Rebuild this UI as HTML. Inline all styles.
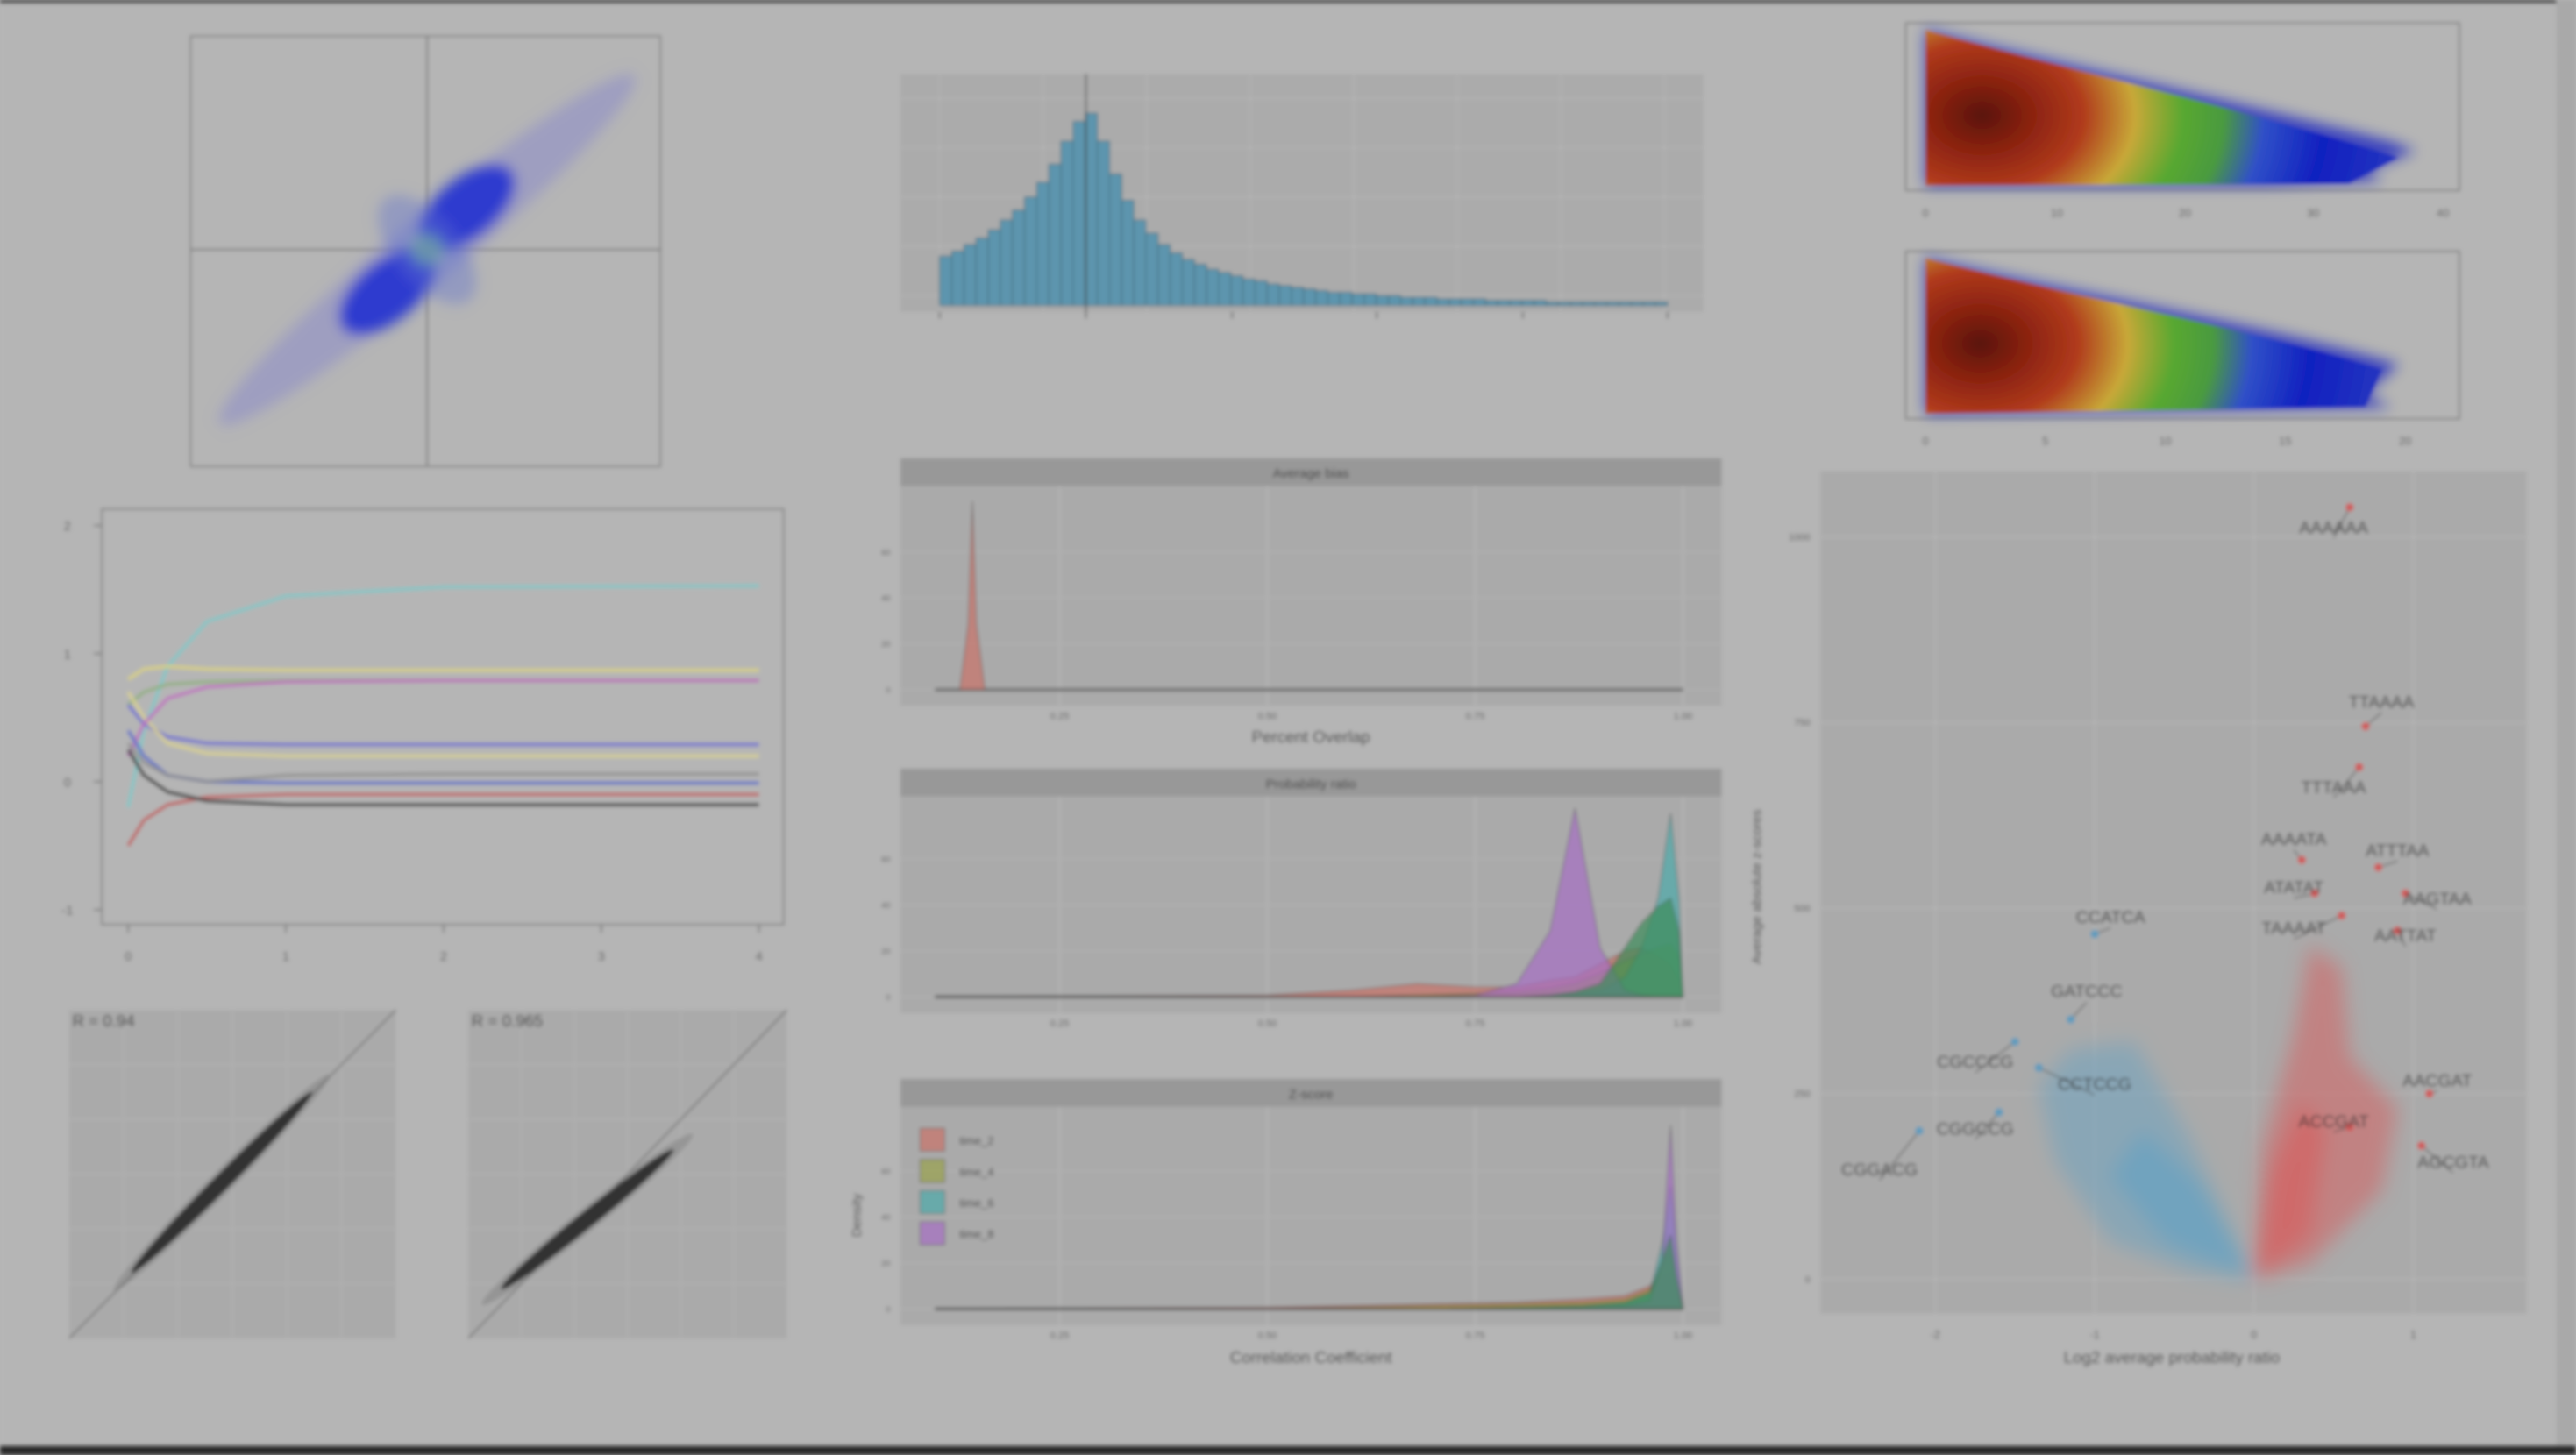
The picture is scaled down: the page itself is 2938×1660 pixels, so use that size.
<!DOCTYPE html>
<html><head><meta charset="utf-8"><style>
html,body{margin:0;padding:0;background:#b5b5b5;}
svg{display:block;font-family:"Liberation Sans",sans-serif;}
</style></head><body>
<svg id="fig" width="2938" height="1660" viewBox="0 0 1568 886" preserveAspectRatio="none" xmlns="http://www.w3.org/2000/svg">
<defs>
<filter id="blur" x="-5%" y="-5%" width="110%" height="110%"><feGaussianBlur stdDeviation="1.2"/></filter>
<filter id="blur4"><feGaussianBlur stdDeviation="4"/></filter>
<filter id="blur6" x="-20%" y="-20%" width="140%" height="140%"><feGaussianBlur stdDeviation="6"/></filter>
<radialGradient id="heat" cx="0.12" cy="0.55" r="0.85" gradientTransform="translate(0.12 0.55) scale(1 2.2) translate(-0.12 -0.55)">
<stop offset="0" stop-color="#5a1408"/><stop offset="0.12" stop-color="#8a2210"/><stop offset="0.25" stop-color="#b03a1c"/>
<stop offset="0.38" stop-color="#c8a838"/><stop offset="0.5" stop-color="#58a830"/><stop offset="0.6" stop-color="#4a9a40"/>
<stop offset="0.7" stop-color="#3050c8"/><stop offset="0.85" stop-color="#1020c0"/><stop offset="1" stop-color="#2030c0"/>
</radialGradient>
</defs>
<g id="root" filter="url(#blur)">
<rect x="0" y="0" width="1568" height="886" fill="#b5b5b5"/>
<rect x="0" y="0" width="1568" height="2" fill="#333"/>
<rect x="1556" y="0" width="12" height="886" fill="#a9a9a9"/>
<rect x="0" y="880" width="1568" height="6" fill="#2a2a2a"/>

<g>
<rect x="116" y="22" width="286" height="262" fill="none" stroke="#8a8a8a" stroke-width="1.2"/>
<line x1="260" y1="22" x2="260" y2="284" stroke="#777" stroke-width="1"/>
<line x1="116" y1="152" x2="402" y2="152" stroke="#777" stroke-width="1"/>
<g transform="translate(260 152) rotate(-40)" filter="url(#blur4)">
<ellipse cx="0" cy="0" rx="165" ry="20" fill="#9090c8" opacity="0.6"/>
<ellipse cx="-35" cy="4" rx="35" ry="18" fill="#2030d0" opacity="0.9"/>
<ellipse cx="35" cy="-4" rx="35" ry="18" fill="#2030d0" opacity="0.9"/>
<ellipse cx="0" cy="0" rx="20" ry="40" fill="#6070d0" opacity="0.4"/>
<ellipse cx="0" cy="0" rx="10" ry="10" fill="#70a8a0" opacity="0.7"/>
</g>
</g>

<g id="lineChart"></g>
<g id="scatter1"></g>
<g id="scatter2"></g>
<g id="hist"></g>
<g id="dens"></g>

<g>
<rect x="1160" y="14" width="337" height="102" fill="none" stroke="#888" stroke-width="1.2"/>
<path d="M1172 18 C1250 38 1380 66 1455 86 L1470 92 L1440 104 L1450 110 L1380 113 L1172 113 Z" fill="#1a28c0" filter="url(#blur4)" opacity="0.8"/>
<path d="M1172 18 C1250 40 1380 70 1460 96 L1430 112 L1172 113 Z" fill="url(#heat)"/>
<text x="1172" y="132" font-size="7" fill="#555" text-anchor="middle">0</text><text x="1252" y="132" font-size="7" fill="#555" text-anchor="middle">10</text><text x="1330" y="132" font-size="7" fill="#555" text-anchor="middle">20</text><text x="1408" y="132" font-size="7" fill="#555" text-anchor="middle">30</text><text x="1487" y="132" font-size="7" fill="#555" text-anchor="middle">40</text>
</g>
<g>
<rect x="1160" y="153" width="337" height="102" fill="none" stroke="#888" stroke-width="1.2"/>
<path d="M1172 157 C1260 178 1390 200 1460 222 L1440 240 L1455 248 L1172 252 Z" fill="#1a28c0" filter="url(#blur4)" opacity="0.8"/>
<path d="M1172 157 C1260 180 1390 205 1450 225 L1440 248 L1172 252 Z" fill="url(#heat)"/>
<text x="1172" y="271" font-size="7" fill="#555" text-anchor="middle">0</text><text x="1245" y="271" font-size="7" fill="#555" text-anchor="middle">5</text><text x="1318" y="271" font-size="7" fill="#555" text-anchor="middle">10</text><text x="1391" y="271" font-size="7" fill="#555" text-anchor="middle">15</text><text x="1464" y="271" font-size="7" fill="#555" text-anchor="middle">20</text>
</g>

<g id="volcano"></g>
</g>
</svg>
<script>
const lineX = [0, 0.1, 0.25, 0.5, 1, 2, 4];
const lineColors = ["#80c8c8","#d8d080","#90b080","#7070d0","#d8d090","#c070c0","#6070c8","#c06060","#404040","#909090"];
const lineSeries = [
 [-0.2, 0.4, 0.9, 1.25, 1.45, 1.52, 1.53],
 [0.8, 0.88, 0.9, 0.88, 0.87, 0.87, 0.87],
 [0.6, 0.7, 0.76, 0.78, 0.79, 0.79, 0.79],
 [0.6, 0.45, 0.35, 0.3, 0.29, 0.29, 0.29],
 [0.7, 0.5, 0.3, 0.22, 0.2, 0.2, 0.2],
 [0.2, 0.45, 0.65, 0.74, 0.78, 0.79, 0.79],
 [0.4, 0.2, 0.05, 0.0, -0.01, -0.01, -0.01],
 [-0.5, -0.3, -0.18, -0.12, -0.1, -0.1, -0.1],
 [0.25, 0.05, -0.08, -0.15, -0.18, -0.18, -0.18],
 [0.3, 0.15, 0.05, 0.0, 0.05, 0.06, 0.06]
];
const lineYTicks = [2, 1, 0, -1];
const lineXTicks = [0, 1, 2, 3, 4];
const corrLabels = ["R = 0.94", "R = 0.965"];
const histCounts = [30,33,37,41,46,52,58,66,75,86,100,112,117,100,80,64,52,44,37,32,28,25,22,20,18,16,15,13,12,11,10,9,8,8,7,7,6,6,5,5,5,4,4,4,4,3,3,3,3,3,2,2,2,2,2,2,2,2,2,2];
const facetTitles = ["Average bias", "Probability ratio", "Z-score"];
const densXTicks = [0.25, 0.5, 0.75, 1.0];
const densGroups = ["time_2","time_4","time_6","time_8"];
const densX1 = [0.10,0.13,0.14,0.145,0.15,0.16,0.20,1.0];
const densRed1 = [0,0,40,115,40,0,0,0];
const densX2 = [0.10,0.50,0.60,0.68,0.75,0.80,0.84,0.87,0.90,0.93,0.95,0.97,0.985,0.995,1.0];
const densRed2 = [0,1,4,8,6,6,10,12,20,28,30,25,20,10,0];
const densOlive2 = [0,0,0,1,2,3,5,8,14,22,26,30,32,25,0];
const densTeal2 = [0,0,0,0,0,0,1,2,4,12,30,60,112,60,0];
const densGreen2 = [0,0,0,0,0,0,1,3,8,30,45,55,60,40,0];
const densPurple2 = [0,0,0,0,1,8,40,115,30,4,1,0,0,0,0];
const densX3 = [0.10,0.50,0.60,0.70,0.80,0.88,0.93,0.96,0.975,0.985,0.992,1.0];
const densRed3 = [0,1,2,3,4,6,8,14,20,22,10,0];
const densOlive3 = [0,0,1,2,3,4,6,12,25,35,15,0];
const densTeal3 = [0,0,0,0,1,2,4,10,40,75,40,0];
const densGreen3 = [0,0,0,0,1,2,4,10,30,45,20,0];
const densPurple3 = [0,0,0,0,0,1,2,5,30,112,40,0];
const volLabels = ["AAAAAA","TTAAAA","TTTAAA","AAAATA","ATTTAA","ATATAT","AAGTAA","TAAAAT","AATTAT","CCATCA","GATCCC","CGCCCG","CCTCCG","CGGCCG","CGGACG","AACGAT","ACCGAT","AGCGTA"];
const volX = [0.6,0.7,0.66,0.3,0.78,0.38,0.95,0.55,0.9,-1.0,-1.15,-1.5,-1.35,-1.6,-2.1,1.1,0.6,1.05];
const volY = [1040,745,690,565,555,520,520,490,470,465,350,320,285,225,200,250,205,180];
const volLabX = [0.5,0.8,0.5,0.25,0.9,0.25,1.15,0.25,0.95,-0.9,-1.05,-1.75,-1.0,-1.75,-2.35,1.15,0.5,1.25];
const volLabY = [1005,770,655,585,570,520,505,465,455,480,380,285,255,195,140,260,205,150];
const volYTicks = [0,250,500,750,1000];
const volXTicks = [-2,-1,0,1];

const NS="http://www.w3.org/2000/svg";
function mk(tag, attrs, parent, txt){const e=document.createElementNS(NS,tag);for(const k in attrs)e.setAttribute(k,attrs[k]);if(txt!==undefined)e.textContent=txt;parent.appendChild(e);return e;}

(function(){
 const g=document.getElementById('lineChart');
 const x=v=>78+v*96, y=v=>476-v*78;
 mk('rect',{x:62,y:310,width:415,height:253,fill:'none',stroke:'#8a8a8a','stroke-width':1.2},g);
 lineYTicks.forEach(t=>{mk('line',{x1:57,x2:62,y1:y(t),y2:y(t),stroke:'#777'},g);const tt=mk('text',{x:41,y:y(t)+3,'font-size':8,fill:'#555','text-anchor':'middle'},g,String(t));});
 lineXTicks.forEach(t=>{mk('line',{x1:x(t),x2:x(t),y1:563,y2:568,stroke:'#777'},g);const tt=mk('text',{x:x(t),y:585,'font-size':8,fill:'#555','text-anchor':'middle'},g,String(t));});
 lineSeries.forEach((s,i)=>{
  let d='';s.forEach((v,j)=>{d+=(j?'L':'M')+x(lineX[j]).toFixed(1)+' '+y(v).toFixed(1)+' ';});
  const p=mk('path',{d:d,fill:'none',stroke:lineColors[i],'stroke-width':2.2,'stroke-linejoin':'round',opacity:0.85},g);
  
  
 });
})();

function corr(id,x0,y0,w,h,lab,c1,c2){
 const g=document.getElementById(id);
 mk('rect',{x:x0,y:y0,width:w,height:h,fill:'#aaaaaa'},g);
 for(let i=1;i<6;i++){mk('line',{x1:x0+i*w/6,x2:x0+i*w/6,y1:y0,y2:y0+h,stroke:'#b4b4b4','stroke-width':0.6},g);mk('line',{x1:x0,x2:x0+w,y1:y0+i*h/6,y2:y0+i*h/6,stroke:'#b4b4b4','stroke-width':0.6},g);}
 mk('line',{x1:x0,y1:y0+h,x2:x0+w,y2:y0,stroke:'#777','stroke-width':1},g);
 const cx=(c1[0]+c2[0])/2, cy=(c1[1]+c2[1])/2, len=Math.hypot(c2[0]-c1[0],c2[1]-c1[1]);
 const ang=Math.atan2(c2[1]-c1[1],c2[0]-c1[0])*180/Math.PI;
 mk('ellipse',{cx:cx,cy:cy,rx:len/2+15,ry:7,fill:'#666',opacity:0.3,transform:`rotate(${ang} ${cx} ${cy})`},g);
 mk('ellipse',{cx:cx,cy:cy,rx:len/2,ry:5,fill:'#222',opacity:0.85,transform:`rotate(${ang} ${cx} ${cy})`},g);
 const t=mk('text',{x:x0+2,y:y0+10,'font-size':10,fill:'#333'},g,lab);
 
 
}
corr('scatter1',42,615,199,200,corrLabels[0],[80,775],[190,665]);
corr('scatter2',285,615,194,200,corrLabels[1],[305,785],[410,700]);

(function(){
 const g=document.getElementById('hist');
 mk('rect',{x:548,y:45,width:489,height:145,fill:'#ababab'},g);
 for(let i=0;i<8;i++){const xx=572+i*63;mk('line',{x1:xx,x2:xx,y1:45,y2:190,stroke:'#b6b6b6','stroke-width':0.7},g);}
 for(let i=0;i<5;i++){const yy=60+i*30;mk('line',{x1:548,x2:1037,y1:yy,y2:yy,stroke:'#b6b6b6','stroke-width':0.7},g);}
 const bw=(1015-572)/histCounts.length;
 histCounts.forEach((c,i)=>{
  const r=mk('rect',{x:572+i*bw,y:186-c,width:bw,height:c,fill:'#5d95ae',stroke:'#3d6070','stroke-width':0.5},g);
  
  
 });
 mk('line',{x1:661,x2:661,y1:45,y2:190,stroke:'#444','stroke-width':0.8},g);
 [572,661,750,838,927,1015].forEach(xx=>mk('line',{x1:xx,x2:xx,y1:190,y2:194,stroke:'#666'},g));
})();

(function(){
 const g=document.getElementById('dens');
 const X=v=>518.5+v*506;
 const fills={time_2:'rgba(204,110,100,0.65)',time_4:'rgba(150,160,60,0.6)',time_6:'rgba(60,170,170,0.6)',time_8:'rgba(165,110,195,0.7)'};
 const facets=[
  {top:279,base:420,xs:densX1,series:[['time_2',densRed1]]},
  {top:468,base:607,xs:densX2,series:[['time_2',densRed2],['time_4',densOlive2],['time_6',densTeal2],['time_8',densPurple2],['time_4',densGreen2]]},
  {top:657,base:797,xs:densX3,series:[['time_2',densRed3],['time_4',densOlive3],['time_6',densTeal3],['time_8',densPurple3],['time_4',densGreen3]]}
 ];
 facets.forEach((f,fi)=>{
  mk('rect',{x:548,y:f.top,width:500,height:17,fill:'#989898'},g);
  const st=mk('text',{x:798,y:f.top+12,'font-size':8,fill:'#333','text-anchor':'middle'},g,facetTitles[fi]);
  
  
  mk('rect',{x:548,y:f.top+17,width:500,height:f.base-f.top-7,fill:'#aaaaaa'},g);
  densXTicks.forEach(t=>{mk('line',{x1:X(t),x2:X(t),y1:f.top+17,y2:f.base+10,stroke:'#b8b8b8','stroke-width':0.8},g);
   const tl=mk('text',{x:X(t),y:f.base+18,'font-size':6,fill:'#555','text-anchor':'middle'},g,t.toFixed(2));
   });
  for(let k=0;k<4;k++){const yy=f.base-k*28;mk('line',{x1:548,x2:1048,y1:yy,y2:yy,stroke:'#b2b2b2','stroke-width':0.6},g);mk('text',{x:542,y:yy+2,'font-size':5,fill:'#555','text-anchor':'end'},g,String(k*20));}
  mk('line',{x1:X(0.1),x2:X(1),y1:f.base,y2:f.base,stroke:'#777','stroke-width':2},g);
  f.series.forEach(([grp,vals],si)=>{
   let d=`M${X(f.xs[0])} ${f.base}`;vals.forEach((v,j)=>{d+=` L${X(f.xs[j]).toFixed(1)} ${(f.base-v).toFixed(1)}`;});d+=` L${X(f.xs[f.xs.length-1])} ${f.base} Z`;
   const fill=(si===4)?'rgba(60,140,90,0.7)':fills[grp];
   const p=mk('path',{d:d,fill:fill,stroke:'rgba(60,60,60,0.5)','stroke-width':0.6},g);
   
   
  });
 });
 const a1=mk('text',{x:798,y:452,'font-size':10,fill:'#333','text-anchor':'middle'},g,'Percent Overlap');
 const a2=mk('text',{x:798,y:830,'font-size':10,fill:'#333','text-anchor':'middle'},g,'Correlation Coefficient');
 const a3=mk('text',{x:0,y:0,'font-size':8,fill:'#333','text-anchor':'middle',transform:'translate(524 740) rotate(-90)'},g,'Density');
 densGroups.forEach((grp,i)=>{
  const yy=687+i*19;
  const r=mk('rect',{x:560,y:yy,width:15,height:14,fill:fills[grp],stroke:'#666','stroke-width':0.5},g);
  
  const t=mk('text',{x:584,y:yy+10,'font-size':7,fill:'#333'},g,grp);
  
 });
})();

(function(){
 const g=document.getElementById('volcano');
 const X=v=>1372+v*97, Y=v=>779-v*0.452;
 mk('rect',{x:1108,y:287,width:430,height:513,fill:'#aaaaaa'},g);
 volXTicks.forEach(t=>{mk('line',{x1:X(t),x2:X(t),y1:287,y2:800,stroke:'#b6b6b6','stroke-width':0.8},g);const tl=mk('text',{x:X(t),y:815,'font-size':7,fill:'#555','text-anchor':'middle'},g,String(t));});
 volYTicks.forEach(t=>{mk('line',{x1:1108,x2:1538,y1:Y(t),y2:Y(t),stroke:'#b6b6b6','stroke-width':0.8},g);const tl=mk('text',{x:1102,y:Y(t)+2,'font-size':6,fill:'#555','text-anchor':'end'},g,String(t));});
 const bl=mk('g',{filter:'url(#blur6)'},g);
 mk('path',{d:`M${X(0)} ${Y(0)} L${X(-0.4)} ${Y(190)} L${X(-0.75)} ${Y(320)} L${X(-1.15)} ${Y(310)} L${X(-1.35)} ${Y(260)} L${X(-1.25)} ${Y(160)} L${X(-0.9)} ${Y(50)} L${X(-0.4)} ${Y(10)} Z`,fill:'#6ea3c0',opacity:0.55},bl);
 mk('path',{d:`M${X(0)} ${Y(0)} L${X(-0.35)} ${Y(130)} L${X(-0.7)} ${Y(200)} L${X(-0.9)} ${Y(140)} L${X(-0.55)} ${Y(50)} Z`,fill:'#6ea3c0',opacity:0.9},bl);
 mk('path',{d:`M${X(0)} ${Y(0)} L${X(0.05)} ${Y(180)} L${X(0.25)} ${Y(330)} L${X(0.35)} ${Y(450)} L${X(0.55)} ${Y(420)} L${X(0.6)} ${Y(300)} L${X(0.9)} ${Y(230)} L${X(0.8)} ${Y(120)} L${X(0.35)} ${Y(20)} Z`,fill:'#d06868',opacity:0.6},bl);
 mk('path',{d:`M${X(0)} ${Y(0)} L${X(0.1)} ${Y(140)} L${X(0.3)} ${Y(240)} L${X(0.45)} ${Y(200)} L${X(0.35)} ${Y(60)} Z`,fill:'#d06868',opacity:0.9},bl);
 volLabels.forEach((lab,i)=>{
  const col=volX[i]<0?'#5e9bbd':'#d05a5a';
  mk('line',{x1:X(volX[i]),y1:Y(volY[i]),x2:X(volLabX[i]),y2:Y(volLabY[i])+3,stroke:'#444','stroke-width':0.6},g);
  const c=mk('circle',{cx:X(volX[i]),cy:Y(volY[i]),r:2.5,fill:col},g);
  
  const t=mk('text',{x:X(volLabX[i]),y:Y(volLabY[i]),'font-size':10.5,fill:'#333','text-anchor':'middle'},g,lab);
  
 });
 const xa=mk('text',{x:1322,y:830,'font-size':10,fill:'#333','text-anchor':'middle'},g,'Log2 average probability ratio');
 const ya=mk('text',{x:0,y:0,'font-size':8,fill:'#333','text-anchor':'middle',transform:'translate(1072 540) rotate(-90)'},g,'Average absolute z-scores');
})();
</script>
</body></html>
